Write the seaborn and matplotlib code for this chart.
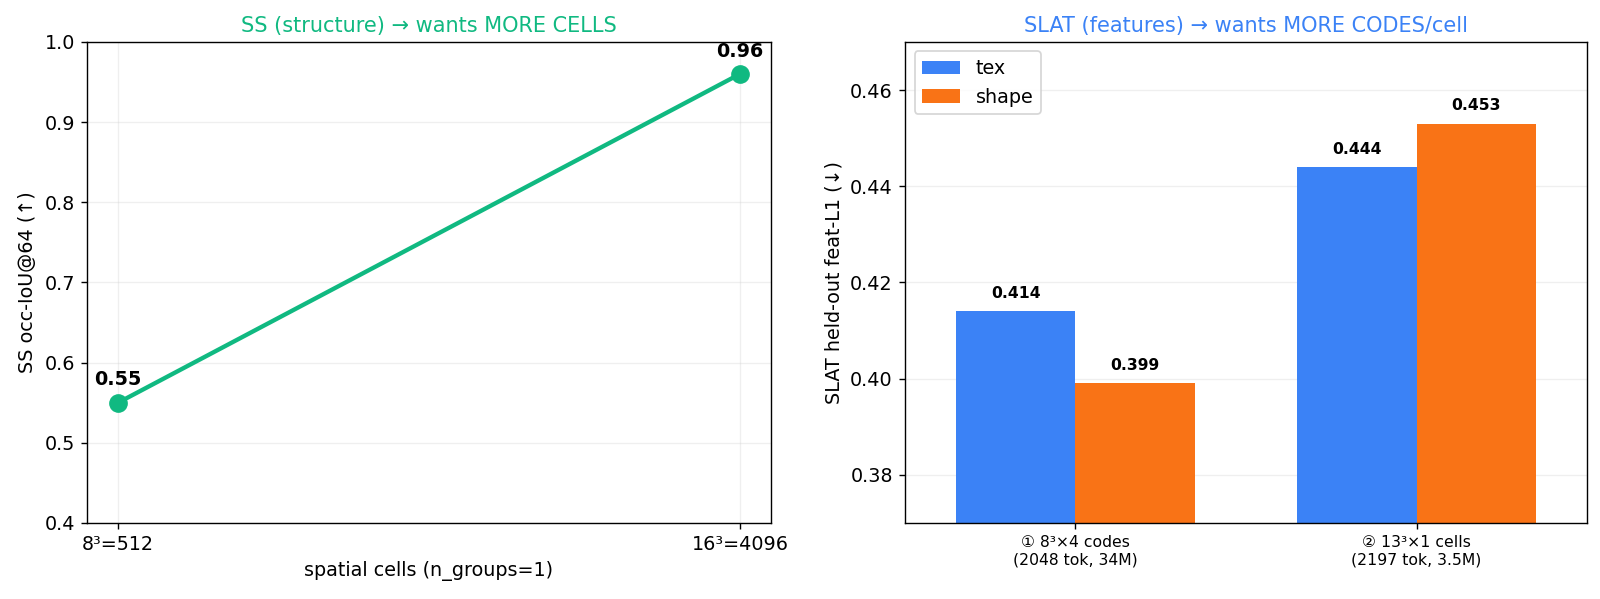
import matplotlib
matplotlib.use("Agg")
import matplotlib.pyplot as plt
import seaborn as sns
import pandas as pd

# data
cells = ["8³=512", "16³=4096"]
ss_iou = [0.55, 0.96]

configs = ["① 8³×4 codes\n(2048 tok, 34M)", "② 13³×1 cells\n(2197 tok, 3.5M)"]
tex_l1 = [0.414, 0.444]
shape_l1 = [0.399, 0.453]

GREEN = "#10b981"
BLUE = "#3b82f6"
ORANGE = "#f97316"

sns.set_style("white")
plt.rcParams["font.family"] = ["DejaVu Sans"]
plt.rcParams.update({
    "text.color": "black",
    "axes.labelcolor": "black",
    "xtick.color": "black",
    "ytick.color": "black",
    "axes.edgecolor": "black",
    "font.size": 11,
})

fig = plt.figure(figsize=(12.8, 4.792), dpi=125)
ax1 = fig.add_axes([0.0544, 0.127, 0.4275, 0.803])
ax2 = fig.add_axes([0.5656, 0.127, 0.4263, 0.803])

# -----------------------------
# left: SS line
# -----------------------------
sns.lineplot(x=cells, y=ss_iou, marker="o", markersize=10, linewidth=2.5,
             color=GREEN, markeredgecolor=GREEN, ax=ax1)
for i, v in enumerate(ss_iou):
    ax1.annotate(f"{v:.2f}", (i, v), textcoords="offset points", xytext=(0, 10),
                 ha="center", fontsize=11, fontweight="bold")
ax1.set_ylim(0.4, 1.0)
ax1.set_xlabel("spatial cells (n_groups=1)", fontsize=11)
ax1.set_ylabel("SS occ-IoU@64 (↑)", fontsize=11)
ax1.set_title("SS (structure) → wants MORE CELLS", color=GREEN, fontsize=12)
ax1.grid(True, alpha=0.3)
ax1.tick_params(labelsize=11)

# -----------------------------
# right: SLAT bars
# -----------------------------
df = pd.DataFrame({
    "config": configs * 2,
    "value": tex_l1 + shape_l1,
    "kind": ["tex"] * len(configs) + ["shape"] * len(configs),
})
sns.barplot(data=df, x="config", y="value", hue="kind", width=0.7,
            palette=[BLUE, ORANGE], saturation=1, linewidth=0, ax=ax2)
for cont in ax2.containers:
    for bar in cont:
        h = bar.get_height()
        ax2.annotate(f"{h:.3f}", (bar.get_x() + bar.get_width() / 2, h),
                     textcoords="offset points", xytext=(0, 6),
                     ha="center", va="bottom", fontsize=9, fontweight="bold")
ax2.set_ylim(0.37, 0.47)
ax2.set_xlabel("")
ax2.set_ylabel("SLAT held-out feat-L1 (↓)", fontsize=11)
ax2.set_title("SLAT (features) → wants MORE CODES/cell", color=BLUE, fontsize=12)
ax2.tick_params(axis="x", labelsize=9)
ax2.tick_params(axis="y", labelsize=11)
ax2.grid(True, axis="y", alpha=0.3)
ax2.set_axisbelow(True)
ax2.legend(loc="upper left", fontsize=11, title=None)

for ax in (ax1, ax2):
    ax.tick_params(bottom=True, left=True, color="black")

plt.savefig("out.png")
